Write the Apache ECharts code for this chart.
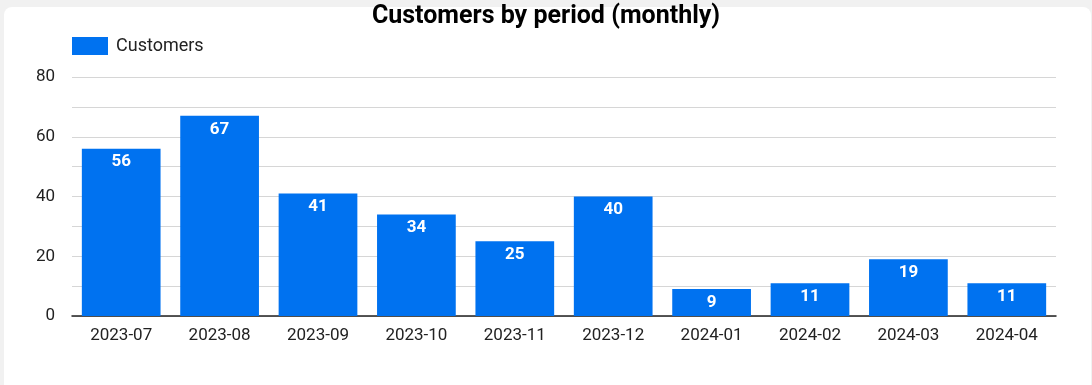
<!DOCTYPE html>
<html>
<head>
<meta charset="utf-8">
<script src="https://cdn.jsdelivr.net/npm/echarts@6/dist/echarts.min.js"></script>
<style>
  html, body { margin:0; padding:0; background:#f1f1f1; width:1092px; height:385px; overflow:hidden; }
  #card { position:absolute; left:4px; top:7px; width:1087px; height:390px; background:#fff; border-radius:8px; }
  #chart { position:absolute; left:0; top:0; width:1092px; height:385px; }
</style>
</head>
<body>
<div id="card"></div>
<div id="chart"></div>
<script>
const categories = ['2023-07','2023-08','2023-09','2023-10','2023-11','2023-12','2024-01','2024-02','2024-03','2024-04'];
const customers = [56, 67, 41, 34, 25, 40, 9, 11, 19, 11];
const seriesName = 'Customers';
const chartTitle = 'Customers by period (monthly)';

const chart = echarts.init(document.getElementById('chart'), null, {renderer:'canvas'});
chart.setOption({
  backgroundColor: 'transparent',
  animation: false,
  textStyle: { fontFamily: 'Roboto' },
  title: {
    text: chartTitle,
    left: 'center',
    top: -1,
    textStyle: { fontFamily: 'Roboto', fontWeight: 'bold', fontSize: 25, color: '#000' }
  },
  legend: {
    left: 67,
    top: 32,
    itemWidth: 36,
    itemHeight: 18,
    itemGap: 10,
    icon: 'rect',
    textStyle: { fontFamily: 'Roboto', fontSize: 18, color: '#222', padding: [0, 0, 0, 3] },
    data: [seriesName]
  },
  grid: { left: 72, right: 36, top: 77, bottom: 69, containLabel: false },
  xAxis: {
    type: 'category',
    data: categories,
    axisTick: { show: false },
    axisLine: { lineStyle: { color: '#222', width: 1.5 } },
    axisLabel: { fontFamily: 'Roboto', fontSize: 17, color: '#222', margin: 11 }
  },
  yAxis: {
    type: 'value',
    min: 0, max: 80, interval: 10,
    axisLine: { show: false },
    axisTick: { show: false },
    splitLine: { lineStyle: { color: '#d6d6d6', width: 1 } },
    axisLabel: {
      fontFamily: 'Roboto', fontSize: 17, color: '#222', margin: 17,
      formatter: v => (v % 20 === 0 ? String(v) : '')
    }
  },
  series: [{
    name: seriesName,
    type: 'bar',
    data: customers,
    barCategoryGap: '20%',
    itemStyle: { color: '#0072f0' },
    label: {
      show: true, position: 'insideTop', distance: 5,
      color: '#fff', fontFamily: 'Roboto', fontWeight: 'bold', fontSize: 17
    }
  }]
});
</script>
</body>
</html>
